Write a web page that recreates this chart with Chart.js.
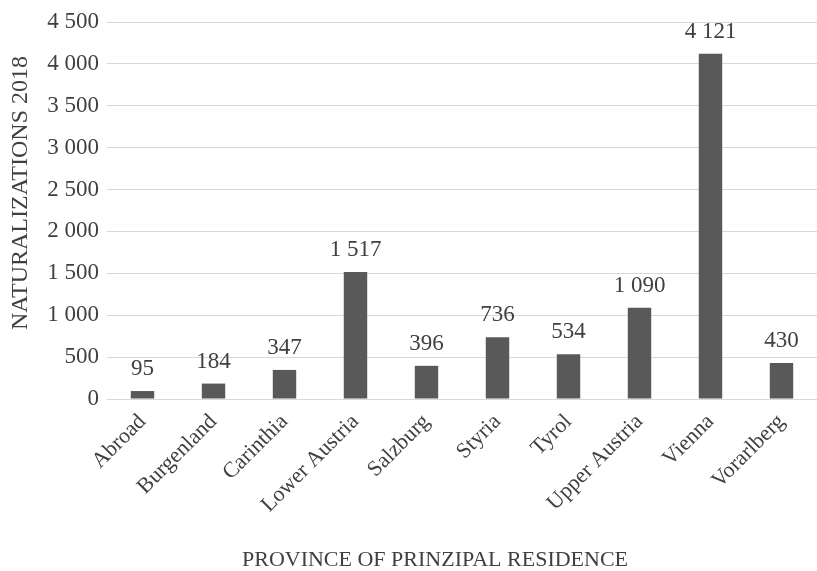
<!DOCTYPE html>
<html>
<head>
<meta charset="utf-8">
<script src="https://cdn.jsdelivr.net/npm/chart.js@4.4.1/dist/chart.umd.min.js"></script>
<style>
  html, body { margin: 0; padding: 0; background: #ffffff; }
  #wrap { width: 817px; height: 571px; position: relative; }
</style>
</head>
<body>
<div id="wrap"><canvas id="c" width="817" height="571"></canvas></div>
<script>
const categories = ["Abroad", "Burgenland", "Carinthia", "Lower Austria", "Salzburg", "Styria", "Tyrol", "Upper Austria", "Vienna", "Vorarlberg"];
const naturalizations = [95, 184, 347, 1517, 396, 736, 534, 1090, 4121, 430];
const yTitle = "NATURALIZATIONS 2018";
const xTitle = "PROVINCE OF PRINZIPAL RESIDENCE";
const yMax = 4500;
const yStep = 500;

const FONT = "'Liberation Serif', 'DejaVu Serif', serif";
const TEXT = "#404040";

function fmt(v) {
  return String(v).replace(/\B(?=(\d{3})+(?!\d))/g, " ");
}

const labelPlugin = {
  id: "labelsAndTitles",
  afterDatasetsDraw(chart) {
    const ctx = chart.ctx;
    const meta = chart.getDatasetMeta(0);
    ctx.save();
    ctx.font = "23px " + FONT;
    ctx.fillStyle = TEXT;
    ctx.textAlign = "center";
    ctx.textBaseline = "alphabetic";
    meta.data.forEach((el, i) => {
      ctx.fillText(fmt(chart.data.datasets[0].data[i]), el.x, el.y - 16);
    });
    ctx.restore();
  },
  afterDraw(chart) {
    const ctx = chart.ctx;
    ctx.save();
    ctx.fillStyle = TEXT;
    ctx.textAlign = "center";
    ctx.textBaseline = "middle";
    ctx.font = "22px " + FONT;
    ctx.fillText(xTitle, 435, 560);
    ctx.font = "24px " + FONT;
    ctx.translate(21, 193);
    ctx.rotate(-Math.PI / 2);
    ctx.fillText(yTitle, 0, 0);
    ctx.restore();
  }
};

new Chart(document.getElementById("c"), {
  type: "bar",
  data: {
    labels: categories,
    datasets: [{
      data: naturalizations,
      backgroundColor: "#595959",
      borderWidth: 0,
      barPercentage: 0.33,
      categoryPercentage: 1.0
    }]
  },
  options: {
    responsive: false,
    animation: false,
    devicePixelRatio: 1,
    layout: { padding: { top: 22, right: 0, bottom: 0, left: 0 } },
    plugins: {
      legend: { display: false },
      tooltip: { enabled: false },
      title: { display: false }
    },
    scales: {
      x: {
        grid: { display: false, drawTicks: false },
        border: { display: false },
        ticks: {
          color: TEXT,
          font: { family: FONT, size: 22 },
          minRotation: 45,
          maxRotation: 45,
          padding: 10,
          autoSkip: false
        },
        afterFit(scale) { scale.height = 172; }
      },
      y: {
        min: 0,
        max: yMax,
        grid: { color: "#d9d9d9", lineWidth: 1, drawTicks: false },
        border: { display: false },
        ticks: {
          stepSize: yStep,
          color: TEXT,
          font: { family: FONT, size: 23 },
          padding: 8,
          callback: (v) => fmt(v)
        },
        afterFit(scale) { scale.width = 107; }
      }
    }
  },
  plugins: [labelPlugin]
});
</script>
</body>
</html>
